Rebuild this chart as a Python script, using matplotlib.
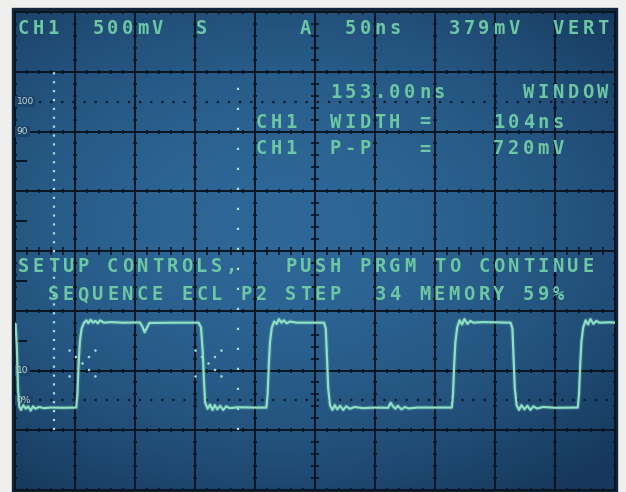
import numpy as np
import matplotlib.pyplot as plt
from matplotlib.patches import Rectangle
from matplotlib.path import Path

# ---------------- данные осциллограммы (50 нс/дел, 500 мВ/дел) ----------------
t_ns = [-2, 0.5, 1.5, 2.5, 3.5, 5,
        7, 9, 11, 13, 15, 17, 20, 24, 30, 40, 51,
        52, 53, 54, 55.5, 57.5,
        59.5, 61, 63, 65, 67, 69, 71, 74, 80, 90, 104,
        106, 108, 110, 112, 130, 153,
        155, 156.5, 157.5, 158.5, 160.5,
        162.5, 164.5, 166.5, 168.5, 171, 173.5, 176, 179, 185, 200, 209.5,
        210.5, 211.5, 212.5, 214, 216,
        218, 220, 222, 224, 226.5, 229, 235, 257.5,
        259, 260, 261, 262.5, 264.5,
        266.5, 268.5, 271, 273.5, 276, 279, 283, 290, 300, 311,
        313, 315, 317, 319, 322, 325, 328, 335, 364,
        365, 366, 367, 368.5, 370.5,
        372.5, 374.5, 377, 379.5, 382, 390, 413,
        414.5, 415.5, 416.5, 418, 420,
        422, 424.5, 427, 429.5, 432, 435, 440, 450, 469,
        470, 471, 472, 473.5, 475.5,
        477.5, 479.5, 482, 484.5, 487, 495, 502]
v_mv = [-600, -610, -800, -1150, -1300, -1330,
        -1290, -1320, -1300, -1335, -1300, -1320, -1305, -1315, -1310, -1312, -1310,
        -1200, -950, -760, -650, -600,
        -580, -605, -575, -600, -585, -605, -580, -600, -595, -600, -598,
        -630, -680, -640, -602, -600, -600,
        -640, -850, -1100, -1270, -1320,
        -1285, -1330, -1290, -1325, -1295, -1330, -1300, -1315, -1308, -1310, -1310,
        -1200, -950, -760, -640, -590,
        -610, -570, -600, -580, -605, -590, -600, -600,
        -650, -900, -1150, -1290, -1330,
        -1290, -1325, -1295, -1330, -1300, -1320, -1305, -1315, -1310, -1312,
        -1270, -1300, -1320, -1295, -1325, -1305, -1318, -1310, -1310,
        -1200, -950, -760, -640, -580,
        -615, -570, -610, -585, -600, -595, -600,
        -650, -900, -1150, -1290, -1330,
        -1290, -1325, -1295, -1330, -1300, -1318, -1305, -1312, -1310,
        -1200, -950, -760, -640, -580,
        -615, -570, -610, -585, -600, -597, -600]

cursor_t = [32.5, 185.5]           # временные курсоры, нс
cursor_span = (-1500, 1500)
ref_levels = [1250, -1250]          # уровни 100 % и 0 %
cross_t = [56, 161]                 # отметки пересечения уровня 10 %
cross_v = -940
side_marks = [750, 250, -250, -750]
level_labels = ['100', '90', '10', '0%']
level_values = [1250, 1000, -1000, -1250]

rows = ["CH1  500mV  S      A  50ns   379mV  VERT",
        "                     153.00ns     WINDOW",
        "                CH1  WIDTH =    104ns",
        "                CH1  P-P   =    720mV",
        "SETUP CONTROLS,   PUSH PRGM TO CONTINUE",
        "  SEQUENCE ECL P2 STEP  34 MEMORY 59%"]
row_y = [28, 92, 121, 148, 265, 294]

# ---------------- оформление ----------------
W, H = 626, 492
grid_c = '#0a1522'
txt_c = '#6cc8a2'
trace_c = '#8ee0c4'

fig = plt.figure(figsize=(W / 100, H / 100), dpi=100)
fig.patch.set_facecolor('#efefed')

bg = fig.add_axes([0, 0, 1, 1])
bg.set_xlim(0, W)
bg.set_ylim(H, 0)
bg.axis('off')
bg.add_patch(Rectangle((12, 8), 605, 490, color='#13253a'))

ax = fig.add_axes([15 / W, (H - 490) / H, 600 / W, 478 / H])
ax.set_xlim(0, 500)
ax.set_ylim(-2000, 2000)
ax.axis('off')

# фон экрана - радиальный градиент
gx, gy = np.meshgrid(np.linspace(-1, 1, 200), np.linspace(-1, 1, 160))
r = np.clip(np.hypot(gx * 0.85 + 0.1, gy - 0.1) / 1.35, 0, 1)
c0 = np.array([46, 104, 152]) / 255
c1 = np.array([22, 56, 92]) / 255
img = c0 + (c1 - c0) * (r[..., None] ** 1.8)
ax.imshow(img, extent=[0, 500, -2000, 2000], aspect='auto', origin='lower', zorder=0)

# сетка
mx = np.arange(0, 501, 10)
my = np.arange(-2000, 2001, 100)
for x in np.arange(0, 501, 50):
    ax.axvline(x, color=grid_c, lw=1.4, zorder=2, clip_on=False)
    ax.plot(np.full(len(my), x), my, ls='none', marker='_',
            ms=6 if x == 250 else 2.5, mew=1.2, color=grid_c, zorder=2)
for y in np.arange(-2000, 2001, 500):
    ax.axhline(y, color=grid_c, lw=1.4, zorder=2, clip_on=False)
    ax.plot(mx, np.full(len(mx), y), ls='none', marker='|',
            ms=6 if y == 0 else 2.5, mew=1.2, color=grid_c, zorder=2)
ax.hlines(side_marks, 0, 10, color=grid_c, lw=1.4, zorder=2)

for lab, v in zip(level_labels, level_values):
    ax.text(1.5, v, lab, fontsize=6.5, color='#c3d8ce', ha='left', va='center', zorder=3,
            bbox=dict(fc='#1c446c', ec='none', pad=1.0))

# курсоры и уровни
ax.hlines(ref_levels, 20, 500, colors='#0c1a2a', linestyles=(0, (1, 4)), lw=1.6, zorder=3)
ax.vlines(cursor_t[0], *cursor_span, colors='#a6e0d4', linestyles=(0, (1, 3)), lw=1.6, zorder=3)
ax.vlines(cursor_t[1], *cursor_span, colors='#a6e0d4', linestyles=(0, (1, 8)), lw=1.6, zorder=3)

offs = [(-1, 1), (-1, -1), (-0.5, 0.5), (0, 0), (0.5, 0.5), (1, 1), (0.5, -0.5), (1, -1)]
dot_x = Path.make_compound_path(*[Path.circle(o, 0.1) for o in offs])
ax.scatter(cross_t, [cross_v] * len(cross_t), marker=dot_x, s=420, color='#9fdcd0',
           lw=0, zorder=4)

# сигнал
ax.plot(t_ns, v_mv, color=trace_c, lw=3.5, alpha=0.15, zorder=5, solid_joinstyle='round')
ax.plot(t_ns, v_mv, color=trace_c, lw=1.6, zorder=6, solid_joinstyle='round')

# надписи экрана (моноширинная сетка знакомест)
pitch = 14.85
for s, y in zip(rows, row_y):
    for i, ch in enumerate(s):
        if ch != ' ':
            fig.text((18 + i * pitch) / W, 1 - (y + 6.5) / H, ch, family='DejaVu Sans Mono',
                     weight='bold', size=13.5, color=txt_c, ha='left', va='baseline')

fig.savefig('out.png', dpi=100, facecolor=fig.get_facecolor())
